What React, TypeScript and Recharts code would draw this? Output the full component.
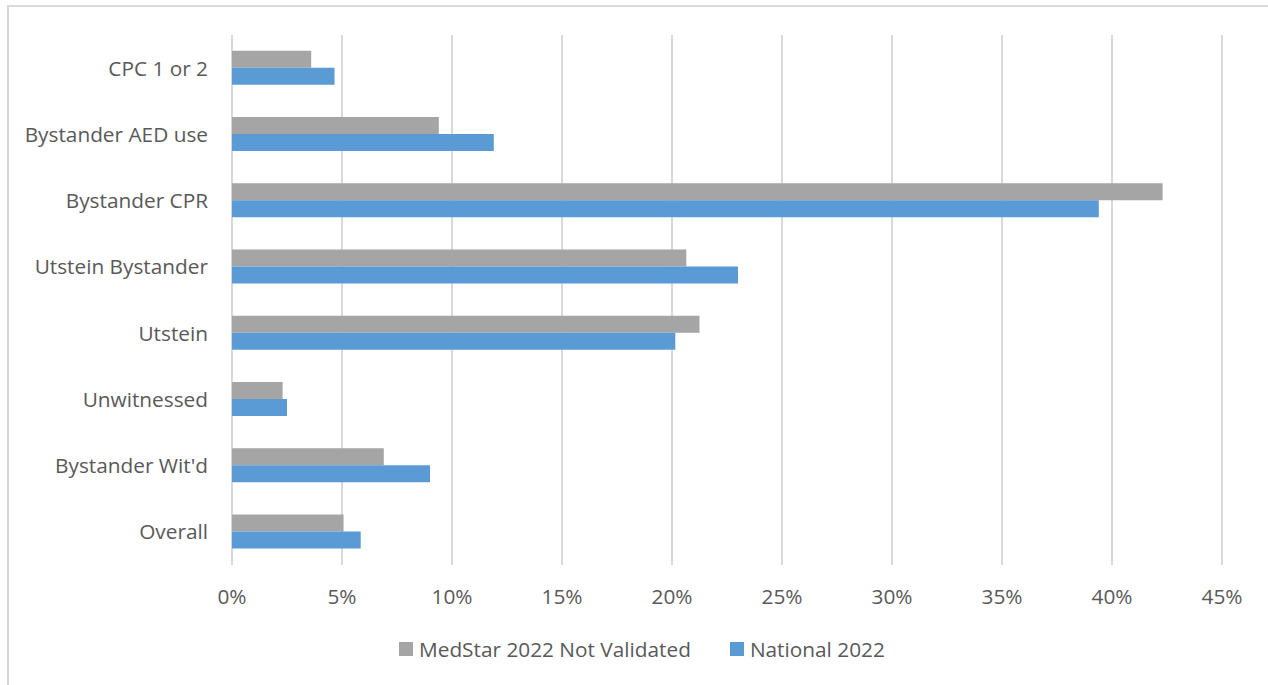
import React from "react";
import {
  BarChart,
  Bar,
  XAxis,
  YAxis,
  CartesianGrid,
  Legend,
} from "recharts";

const categories = [
  "CPC 1 or 2",
  "Bystander AED use",
  "Bystander CPR",
  "Utstein Bystander",
  "Utstein",
  "Unwitnessed",
  "Bystander Wit'd",
  "Overall",
];

const medstar2022 = [3.6, 9.4, 42.3, 20.65, 21.25, 2.3, 6.9, 5.07];
const national2022 = [4.66, 11.9, 39.4, 23.0, 20.15, 2.5, 9.0, 5.85];

const xTicks = [0, 5, 10, 15, 20, 25, 30, 35, 40, 45];

const SERIES = [
  { key: "medstar", name: "MedStar 2022 Not Validated", color: "#a5a5a5" },
  { key: "national", name: "National 2022", color: "#5b9bd5" },
];

const FONT = "'Open Sans', 'Noto Sans', sans-serif";
const FONT_SIZE = 20.8;
const TEXT = "#595959";
const GRID = "#d9d9d9";

const data = categories.map((name, i) => ({
  name,
  medstar: medstar2022[i],
  national: national2022[i],
}));

const LegendContent = () => (
  <div style={{ display: "flex", alignItems: "center", fontFamily: FONT, fontSize: FONT_SIZE, color: TEXT }}>
    {SERIES.map((s, i) => (
      <div
        key={s.key}
        style={{ display: "flex", alignItems: "center", marginRight: i === 0 ? 39 : 0 }}
      >
        <span style={{ width: 14, height: 14, background: s.color, display: "inline-block", marginRight: 6 }} />
        <span>{s.name}</span>
      </div>
    ))}
  </div>
);

export default function App() {
  return (
    <div style={{ position: "absolute", left: 0, top: 0, width: 1268, height: 685, background: "#fff", overflow: "hidden" }}>
      <div
        style={{
          position: "absolute",
          left: 7,
          top: 5,
          width: 1280,
          height: 700,
          border: `2px solid ${GRID}`,
          boxSizing: "border-box",
        }}
      />
      <div style={{ position: "absolute", left: 0, top: 0 }}>
        <BarChart
          width={1268}
          height={685}
          data={data}
          layout="vertical"
          margin={{ top: 35, right: 46, left: 0, bottom: 70 }}
          barCategoryGap="23.6%"
          barGap={0}
        >
          <CartesianGrid horizontal={false} stroke={GRID} strokeWidth={2} />
          <XAxis
            type="number"
            domain={[0, 45]}
            ticks={xTicks}
            tickFormatter={(v: number) => `${v}%`}
            axisLine={false}
            tickLine={false}
            tickSize={0}
            tickMargin={24}
            height={50}
            interval={0}
            tick={{ fill: TEXT, fontSize: FONT_SIZE, fontFamily: FONT }}
          />
          <YAxis
            type="category"
            dataKey="name"
            width={232}
            axisLine={false}
            tickLine={false}
            tickSize={0}
            tickMargin={24}
            interval={0}
            tick={{ fill: TEXT, fontSize: FONT_SIZE, fontFamily: FONT }}
          />
          <Legend
            verticalAlign="middle"
            layout="horizontal"
            content={<LegendContent />}
            wrapperStyle={{ left: 399, top: 635, width: "auto" }}
          />
          {SERIES.map((s) => (
            <Bar
              key={s.key}
              dataKey={s.key}
              name={s.name}
              fill={s.color}
              isAnimationActive={false}
            />
          ))}
        </BarChart>
      </div>
    </div>
  );
}
